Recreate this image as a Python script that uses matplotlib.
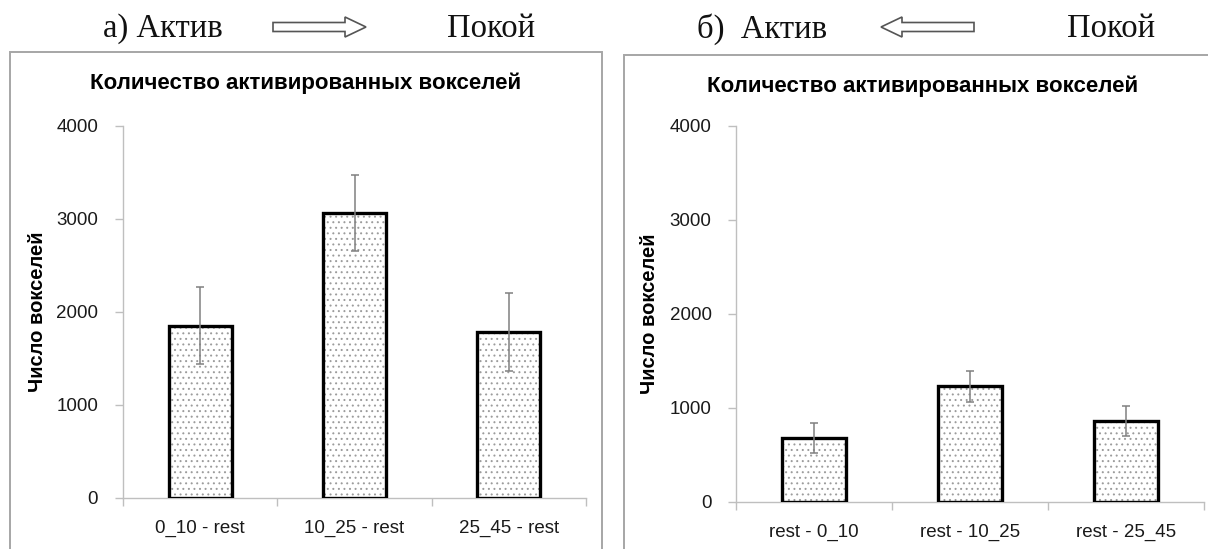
import matplotlib
matplotlib.use("Agg")
import matplotlib.pyplot as plt
from matplotlib.patches import Rectangle, FancyArrow

# data
cats_a = ["0_10 - rest", "10_25 - rest", "25_45 - rest"]
vals_a = [1850, 3060, 1780]
errs_a = [415, 408, 418]

cats_b = ["rest - 0_10", "rest - 10_25", "rest - 25_45"]
vals_b = [680, 1230, 858]
errs_b = [162, 165, 163]

title = "Количество активированных вокселей"
ylab = "Число вокселей"
yticks = [0, 1000, 2000, 3000, 4000]

SANS = ["Liberation Sans", "DejaVu Sans"]
SERIF = ["Liberation Serif", "DejaVu Serif"]
AXIS_GRAY = "#bfbfbf"

W, H = 1208, 549


def px(x, y):
    # pixel coords (top-left origin) -> figure fraction
    return x / W, 1 - y / H


def draw_panel(fig, rect, cats, vals, errs, tick_pad):
    ax = fig.add_axes(rect)
    xs = list(range(len(cats)))
    # dotted fill
    ax.bar(xs, vals, width=0.41, color="white", edgecolor="#9c9c9c", hatch="...",
           linewidth=0, zorder=2)
    # black outline
    ax.bar(xs, vals, width=0.41, fill=False, edgecolor="black", linewidth=2.4, zorder=3)
    ax.errorbar(xs, vals, yerr=errs, fmt="none", ecolor="#808080", elinewidth=1.1,
                capsize=3, capthick=1.1, zorder=4)

    ax.set_xlim(-0.5, len(cats) - 0.5)
    ax.set_ylim(0, 4000)
    ax.set_yticks(yticks)
    ax.set_xticks([i - 0.5 for i in range(len(cats) + 1)])
    ax.set_xticklabels([])
    ax.set_xticks(xs, minor=True)
    ax.set_xticklabels(cats, minor=True, fontsize=13.5, family=SANS, color="#1a1a1a")
    ax.tick_params(axis="x", which="major", length=6, color=AXIS_GRAY, width=1)
    ax.tick_params(axis="x", which="minor", length=0, pad=16)
    ax.tick_params(axis="y", length=6, color=AXIS_GRAY, width=1, pad=tick_pad,
                   labelsize=13.5, labelcolor="#1a1a1a")
    for lab in ax.get_yticklabels():
        lab.set_family(SANS)
    for s in ("top", "right"):
        ax.spines[s].set_visible(False)
    for s in ("left", "bottom"):
        ax.spines[s].set_color(AXIS_GRAY)
        ax.spines[s].set_linewidth(1)
    ax.set_facecolor("none")
    ax.text(-0.184, 0.5, ylab, transform=ax.transAxes, rotation=90, ha="center",
            va="center", fontsize=14.5, fontweight="bold", family=SANS)
    return ax


def main():
    plt.rcParams["hatch.linewidth"] = 0.7
    fig = plt.figure(figsize=(W / 100, H / 100), dpi=100)

    # panel frames
    x0, y0 = px(10, 549)
    x1, y1 = px(602, 52)
    fig.patches.append(Rectangle((x0, y0 - 0.01), x1 - x0, y1 - y0 + 0.01, transform=fig.transFigure,
                                 fill=False, edgecolor="#a6a6a6", linewidth=1.4))
    x0, y0 = px(624, 549)
    x1, y1 = px(1215, 55)
    fig.patches.append(Rectangle((x0, y0 - 0.01), x1 - x0, y1 - y0 + 0.01, transform=fig.transFigure,
                                 fill=False, edgecolor="#a6a6a6", linewidth=1.4))

    # axes
    l, b = px(123, 497.7)
    r, t = px(586, 125.7)
    draw_panel(fig, [l, b, r - l, t - b], cats_a, vals_a, errs_a, 12)
    l, b = px(736, 501.7)
    r, t = px(1204, 125.7)
    draw_panel(fig, [l, b, r - l, t - b], cats_b, vals_b, errs_b, 11.5)

    # chart titles
    fig.text(*px(306, 83), title, ha="center", va="center", fontsize=16,
             fontweight="bold", family=SANS)
    fig.text(*px(923, 86), title, ha="center", va="center", fontsize=16,
             fontweight="bold", family=SANS)

    # header labels
    hdr = dict(va="center", fontsize=23.5, family=SERIF, color="#111111")
    fig.text(*px(103, 29), "а) Актив", ha="left", **hdr)
    fig.text(*px(535, 29), "Покой", ha="right", **hdr)
    fig.text(*px(697, 29), "б)  Актив", ha="left", **hdr)
    fig.text(*px(1155, 29), "Покой", ha="right", **hdr)

    # outline arrows (pixel space)
    def block_arrow(xs, xe, yc):
        sx, sy = px(xs, yc)
        ex, _ = px(xe, yc)
        fig.patches.append(FancyArrow(sx, sy, ex - sx, 0, width=9 / H, head_width=20 / H,
                                      head_length=21 / W, length_includes_head=True,
                                      transform=fig.transFigure, facecolor="white",
                                      edgecolor="#555555", linewidth=1.2))

    block_arrow(273, 366, 27)
    block_arrow(974, 881, 27)

    fig.savefig("out.png", dpi=100)
    plt.close(fig)


if __name__ == "__main__":
    main()
